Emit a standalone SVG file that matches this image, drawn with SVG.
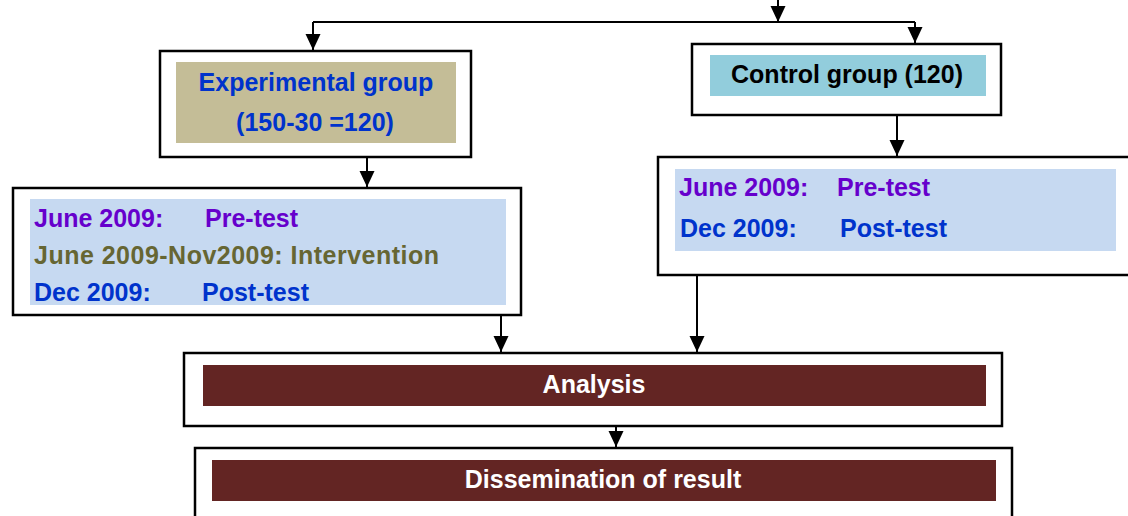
<svg xmlns="http://www.w3.org/2000/svg" width="1128" height="516" viewBox="0 0 1128 516">
<defs>
<marker id="arr" markerUnits="userSpaceOnUse" markerWidth="17" markerHeight="16" refX="16" refY="8" orient="auto" viewBox="0 0 17 16">
<path d="M0,0.5 L16,8 L0,15.5 z" fill="#000"/>
</marker>
<style>
.box{fill:#fff;stroke:#000;stroke-width:2.5}
.t{font-family:"Liberation Sans",Arial,sans-serif;font-weight:bold;font-size:25px}
.c{stroke:#000;stroke-width:2;fill:none}
.purple{fill:#6600CC}
.blue{fill:#0033CC}
.olive{fill:#666633}
.white{fill:#fff}
</style>
</defs>
<rect width="1128" height="516" fill="#fff"/>
<g id="connectors">
<path class="c" d="M778,0 V22" marker-end="url(#arr)"/>
<path class="c" d="M313,22 H915"/>
<path class="c" d="M313,22 V50" marker-end="url(#arr)"/>
<path class="c" d="M915,22 V43" marker-end="url(#arr)"/>
<path class="c" d="M367,157 V187" marker-end="url(#arr)"/>
<path class="c" d="M897,115 V156" marker-end="url(#arr)"/>
<path class="c" d="M501,316 V352" marker-end="url(#arr)"/>
<path class="c" d="M697,275 V352" marker-end="url(#arr)"/>
<path class="c" d="M616,426 V447" marker-end="url(#arr)"/>
</g>
<g id="experimental">
<rect class="box" x="160" y="51" width="311" height="106"/>
<rect x="176" y="62" width="280" height="81" fill="#C4BD97"/>
<text class="t blue" x="316" y="91" text-anchor="middle">Experimental group</text>
<text class="t blue" x="315" y="131" text-anchor="middle">(150-30 =120)</text>
</g>
<g id="control">
<rect class="box" x="692" y="44" width="309" height="71"/>
<rect x="710" y="55" width="276" height="41" fill="#92CDDC"/>
<text class="t" x="847" y="83" text-anchor="middle" fill="#000">Control group (120)</text>
</g>
<g id="experimental-timeline">
<rect class="box" x="13" y="188" width="508" height="127"/>
<rect x="30" y="199" width="476" height="106" fill="#C6D9F1"/>
<text class="t purple" x="34" y="227">June 2009:</text>
<text class="t purple" x="205" y="227">Pre-test</text>
<text class="t olive" x="34" y="264" textLength="405">June 2009-Nov2009: Intervention</text>
<text class="t blue" x="34" y="301">Dec 2009:</text>
<text class="t blue" x="202" y="301">Post-test</text>
</g>
<g id="control-timeline">
<rect class="box" x="658" y="157" width="490" height="118"/>
<rect x="675" y="169" width="441" height="82" fill="#C6D9F1"/>
<text class="t purple" x="679" y="196">June 2009:</text>
<text class="t purple" x="837" y="196">Pre-test</text>
<text class="t blue" x="680" y="237">Dec 2009:</text>
<text class="t blue" x="840" y="237">Post-test</text>
</g>
<g id="analysis">
<rect class="box" x="184" y="353" width="818" height="73"/>
<rect x="203" y="365" width="783" height="41" fill="#632523"/>
<text class="t white" x="594" y="393" text-anchor="middle" font-size="24">Analysis</text>
</g>
<g id="dissemination">
<rect class="box" x="195" y="448" width="817" height="80"/>
<rect x="212" y="460" width="784" height="41" fill="#632523"/>
<text class="t white" x="603" y="488" text-anchor="middle">Dissemination of result</text>
</g>
</svg>
